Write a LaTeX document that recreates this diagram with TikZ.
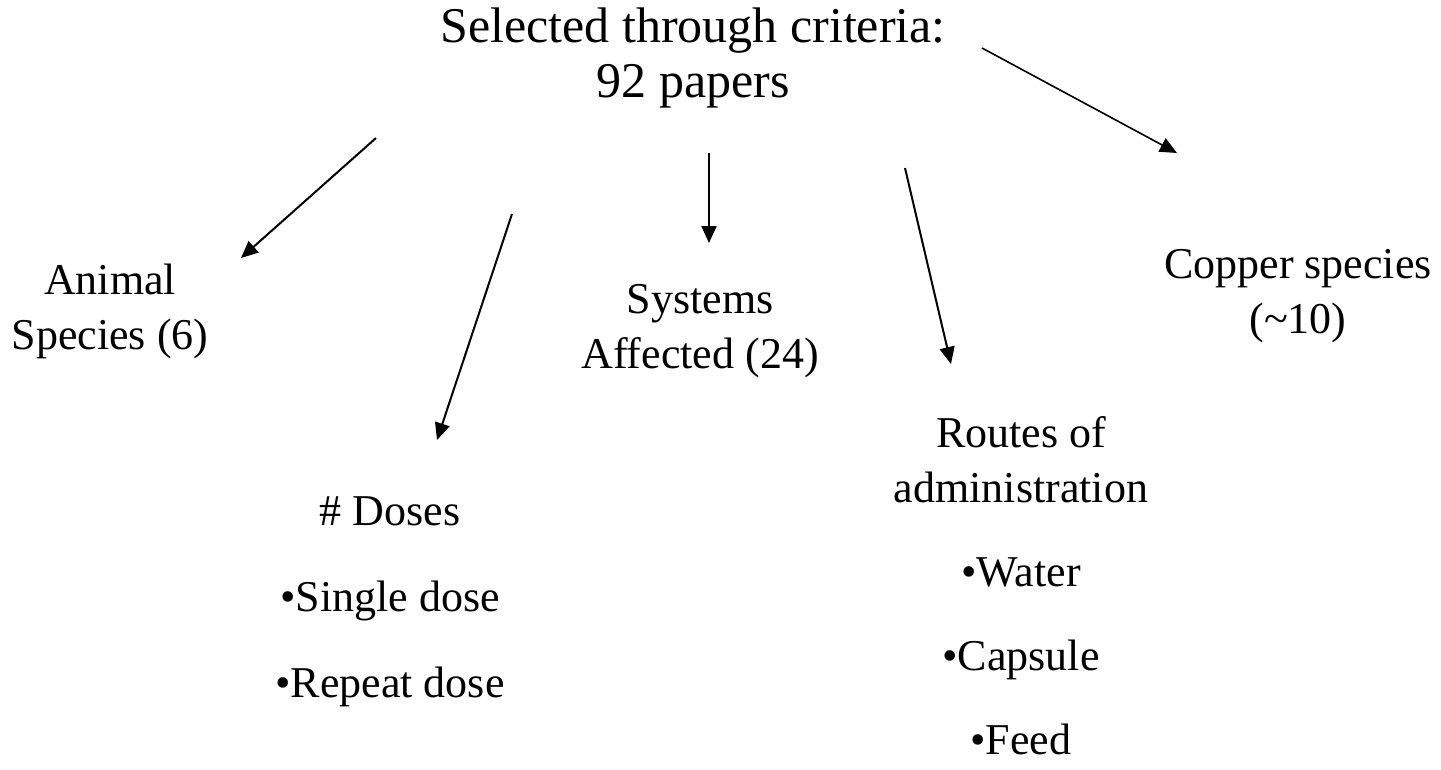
\documentclass[tikz,border=0pt]{standalone}
\usepackage{fontspec}
\setmainfont{Liberation Serif}
\usetikzlibrary{arrows.meta}
\newcommand{\tp}{\rule{0pt}{0.75em}}

\begin{document}
\begin{tikzpicture}[
    x=1pt, y=-1pt,
    titlebox/.style={align=center, inner sep=0pt, anchor=north, font=\fontsize{50}{55}\selectfont},
    txt/.style={align=center, inner sep=0pt, anchor=north, font=\fontsize{44}{55}\selectfont},
    arrow/.style={-{Triangle[length=17pt, width=15pt]}, line width=2pt}
]
\useasboundingbox (0,0) rectangle (1441,769);

% Top
\node[titlebox] (title) at (693,4.5) {\tp Selected through criteria:\\92 papers};

% Branches
\node[txt] (animal) at (110,261) {\tp Animal\\Species (6)};
\node[txt] (systems) at (700,280) {\tp Systems\\Affected (24)};
\node[txt] (copper) at (1298,245) {\tp Copper species\\(\textasciitilde10)};
\node[txt] (doses) at (390,492) {\tp \# Doses\\[31pt]•Single dose\\[31pt]•Repeat dose};
\node[txt] (routes) at (1021,414) {\tp Routes of\\administration\\[29pt]•Water\\[29pt]•Capsule\\[29pt]•Feed};

% Arrow ends
\coordinate (s1) at (376,138); \coordinate (e1) at (241,258);
\coordinate (s2) at (512,214); \coordinate (e2) at (437,440);
\coordinate (s3) at (709,153); \coordinate (e3) at (709,243);
\coordinate (s4) at (905,168); \coordinate (e4) at (951,364);
\coordinate (s5) at (982,48);  \coordinate (e5) at (1177,153);

\draw[arrow] (s1) -- (e1);
\draw[arrow] (s2) -- (e2);
\draw[arrow] (s3) -- (e3);
\draw[arrow] (s4) -- (e4);
\draw[arrow, line width=1.6pt] (s5) -- (e5);

\end{tikzpicture}
\end{document}
